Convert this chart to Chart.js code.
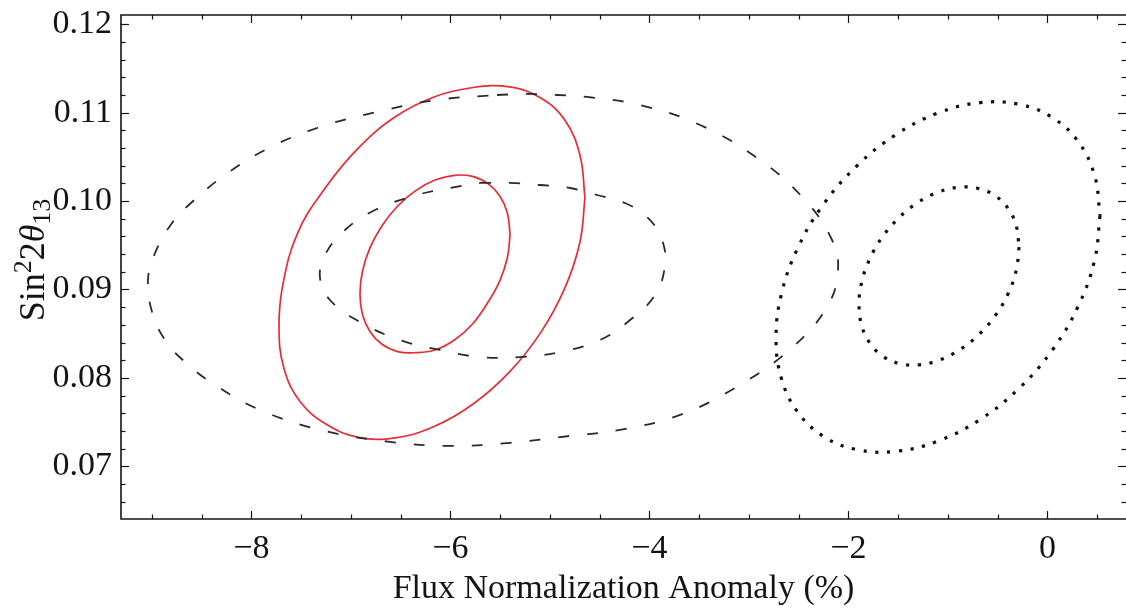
<!DOCTYPE html>
<html><head><meta charset="utf-8">
<script src="https://cdn.jsdelivr.net/npm/chart.js@4.4.0/dist/chart.umd.min.js"></script>
<style>html,body{margin:0;padding:0;background:#fff;overflow:hidden}#wrap{width:1126px;height:608px}</style>
</head><body><div id="wrap"><canvas id="c" width="1126" height="608"></canvas></div>
<script>
// ---- data ----
const xTicks = [-8, -6, -4, -2, 0];
const yTicks = [0.07, 0.08, 0.09, 0.10, 0.11, 0.12];
const xRange = [-9.31, 0.79];
const yRange = [0.06404, 0.12105];
const xTitle = 'Flux Normalization Anomaly (%)';

const redOuterX = [-4.647, -4.698, -4.850, -5.091, -5.405, -5.771, -6.164, -6.557, -6.923, -7.238, -7.511, -7.672, -7.722, -7.682, -7.531, -7.258, -6.923, -6.557, -6.164, -5.771, -5.405, -5.091, -4.850, -4.698];
const redOuterY = [0.10038, 0.09535, 0.09015, 0.08515, 0.08068, 0.07705, 0.07450, 0.07322, 0.07328, 0.07469, 0.07734, 0.08107, 0.08561, 0.09064, 0.09650, 0.10148, 0.10601, 0.10951, 0.11178, 0.11285, 0.11291, 0.11166, 0.10917, 0.10521];

const redInnerX = [-5.400, -5.426, -5.501, -5.622, -5.777, -5.959, -6.154, -6.349, -6.531, -6.687, -6.807, -6.883, -6.908, -6.883, -6.807, -6.687, -6.531, -6.349, -6.154, -5.959, -5.777, -5.622, -5.501, -5.426];
const redInnerY = [0.09624, 0.09368, 0.09104, 0.08855, 0.08610, 0.08429, 0.08316, 0.08285, 0.08298, 0.08380, 0.08523, 0.08718, 0.08953, 0.09209, 0.09473, 0.09722, 0.09942, 0.10118, 0.10238, 0.10292, 0.10279, 0.10197, 0.10054, 0.09859];

const dashOuterX = [-5.531, -5.230, -4.928, -4.627, -4.094, -3.491, -2.888, -2.436, -2.164, -2.104, -2.204, -2.536, -3.089, -3.692, -4.295, -4.797, -5.401, -6.003, -6.607, -7.310, -7.913, -8.365, -8.667, -8.868, -8.998, -9.039, -8.968, -8.797, -8.596, -8.265, -7.863, -7.340, -6.737, -6.134];
const dashOuterY = [0.11200, 0.11212, 0.11200, 0.11178, 0.11087, 0.10861, 0.10465, 0.10012, 0.09560, 0.09221, 0.08825, 0.08372, 0.07921, 0.07581, 0.07412, 0.07344, 0.07265, 0.07231, 0.07276, 0.07412, 0.07638, 0.07921, 0.08180, 0.08429, 0.08746, 0.09108, 0.09413, 0.09752, 0.09990, 0.10295, 0.10578, 0.10827, 0.11008, 0.11144];

const dashInnerX = [-5.702, -5.401, -5.099, -4.797, -4.526, -4.245, -4.014, -3.873, -3.843, -3.943, -4.194, -4.496, -4.898, -5.300, -5.702, -6.104, -6.506, -6.908, -7.210, -7.310, -7.260, -7.059, -6.757, -6.335, -6.003];
const dashInnerY = [0.10205, 0.10205, 0.10182, 0.10148, 0.10069, 0.09978, 0.09809, 0.09560, 0.09277, 0.08938, 0.08655, 0.08429, 0.08293, 0.08236, 0.08236, 0.08316, 0.08429, 0.08632, 0.08881, 0.09130, 0.09391, 0.09673, 0.09899, 0.10069, 0.10148];

const dotOuterX = [0.529, 0.474, 0.311, 0.052, -0.285, -0.677, -1.099, -1.521, -1.913, -2.250, -2.509, -2.672, -2.727, -2.672, -2.509, -2.250, -1.913, -1.521, -1.099, -0.677, -0.285, 0.052, 0.311, 0.474];
const dotOuterY = [0.09835, 0.09330, 0.08815, 0.08319, 0.07882, 0.07529, 0.07286, 0.07170, 0.07188, 0.07339, 0.07613, 0.07991, 0.08448, 0.08953, 0.09468, 0.09964, 0.10400, 0.10753, 0.10997, 0.11113, 0.11095, 0.10943, 0.10670, 0.10292];

const dotInnerX = [-0.285, -0.312, -0.392, -0.520, -0.687, -0.881, -1.089, -1.297, -1.491, -1.658, -1.785, -1.866, -1.893, -1.866, -1.785, -1.658, -1.491, -1.297, -1.089, -0.881, -0.687, -0.520, -0.392, -0.312];
const dotInnerY = [0.09480, 0.09222, 0.08959, 0.08710, 0.08492, 0.08318, 0.08200, 0.08148, 0.08164, 0.08249, 0.08394, 0.08591, 0.08826, 0.09084, 0.09346, 0.09595, 0.09813, 0.09988, 0.10105, 0.10157, 0.10141, 0.10057, 0.09912, 0.09715];

// ---- build ----
const FONT = '"Liberation Serif", "Times New Roman", serif';
const INK = '#141414';
function closed(xs, ys) {
  const pts = xs.map((x, i) => ({x, y: ys[i]}));
  pts.push({x: xs[0], y: ys[0]});
  return pts;
}
const RED = 'rgb(232, 44, 52)';
const DARK = '#2a2a2a';
function ds(xs, ys, color, width, dash) {
  return {data: closed(xs, ys), showLine: true, borderColor: color, borderWidth: width,
    borderDash: dash, pointRadius: 0, tension: 0.4, fill: false, borderCapStyle: 'butt'};
}
const datasets = [
  ds(dashOuterX, dashOuterY, DARK, 1.8, [11, 18]),
  ds(dashInnerX, dashInnerY, DARK, 1.8, [11, 18]),
  ds(dotOuterX, dotOuterY, '#111', 3.2, [3.2, 8.6]),
  ds(dotInnerX, dotInnerY, '#111', 3.2, [3.2, 8.6]),
  ds(redOuterX, redOuterY, RED, 1.7, []),
  ds(redInnerX, redInnerY, RED, 1.7, []),
];

const framePlugin = {
  id: 'frame',
  afterDraw(chart) {
    const {ctx, chartArea: a, scales: {x, y}} = chart;
    ctx.save();
    ctx.strokeStyle = INK;
    ctx.lineWidth = 1.6;
    ctx.beginPath();
    ctx.moveTo(a.right, a.top); ctx.lineTo(a.left, a.top);
    ctx.lineTo(a.left, a.bottom); ctx.lineTo(a.right, a.bottom);
    ctx.stroke();
    ctx.lineWidth = 1.2;
    const seg = (x1, y1, x2, y2) => { ctx.beginPath(); ctx.moveTo(x1, y1); ctx.lineTo(x2, y2); ctx.stroke(); };
    for (let k = -18; k <= 1; k++) {
      const v = k * 0.5;
      const px = Math.round(x.getPixelForValue(v)) + 0.5;
      const L = (k % 4 === 0) ? 8 : 4.5;
      seg(px, a.bottom, px, a.bottom - L);
      seg(px, a.top, px, a.top + L);
    }
    for (let k = 33; k <= 60; k++) {
      const v = k * 0.002;
      const py = Math.round(y.getPixelForValue(v)) + 0.5;
      const L = (k % 5 === 0) ? 8 : 4.5;
      seg(a.left, py, a.left + L, py);
      seg(a.right, py, a.right - L, py);
    }
    // y-axis title with super/subscripts
    const fs = 36, small = 26;
    const parts = [
      {t: 'Sin', f: `${fs}px ${FONT}`, dy: 0},
      {t: '2', f: `${small}px ${FONT}`, dy: -fs * 0.36},
      {t: '2', f: `${fs}px ${FONT}`, dy: 0},
      {t: 'θ', f: `italic ${fs}px ${FONT}`, dy: 0},
      {t: '13', f: `${small}px ${FONT}`, dy: fs * 0.16},
    ];
    let total = 0;
    parts.forEach(p => { ctx.font = p.f; p.w = ctx.measureText(p.t).width; total += p.w; });
    ctx.translate(44, 260);
    ctx.rotate(-Math.PI / 2);
    ctx.fillStyle = INK;
    ctx.textBaseline = 'alphabetic';
    let cx = -total / 2;
    parts.forEach(p => { ctx.font = p.f; ctx.fillText(p.t, cx, p.dy); cx += p.w; });
    ctx.restore();
  }
};

new Chart(document.getElementById('c'), {
  type: 'scatter',
  data: {datasets},
  options: {
    responsive: false, animation: false, devicePixelRatio: 1,
    layout: {padding: {top: 15, right: 0, left: 0, bottom: 0}},
    plugins: {legend: {display: false}, tooltip: {enabled: false}},
    events: [],
    scales: {
      x: {
        type: 'linear', min: xRange[0], max: xRange[1],
        afterBuildTicks: s => { s.ticks = xTicks.map(v => ({value: v})); },
        afterFit: s => { s.height = 89; },
        grid: {display: true, drawOnChartArea: false, drawTicks: true, tickLength: 10, color: 'rgba(0,0,0,0)'},
        border: {display: false},
        ticks: {padding: 0, color: INK, font: {family: FONT, size: 34}, maxRotation: 0,
          callback: v => (v < 0 ? '\u2212' + Math.abs(v) : String(v))},
        title: {display: true, text: xTitle, color: INK, font: {family: FONT, size: 34, lineHeight: 1}, padding: {top: 0, bottom: 2}}
      },
      y: {
        type: 'linear', min: yRange[0], max: yRange[1],
        afterBuildTicks: s => { s.ticks = yTicks.map(v => ({value: v})); },
        afterFit: s => { s.width = 121; },
        grid: {display: true, drawOnChartArea: false, drawTicks: true, tickLength: 9, color: 'rgba(0,0,0,0)'},
        border: {display: false},
        ticks: {padding: 0, color: INK, font: {family: FONT, size: 34, lineHeight: 0.8},
          callback: v => Number(v).toFixed(2)}
      }
    }
  },
  plugins: [framePlugin]
});
</script></body></html>
